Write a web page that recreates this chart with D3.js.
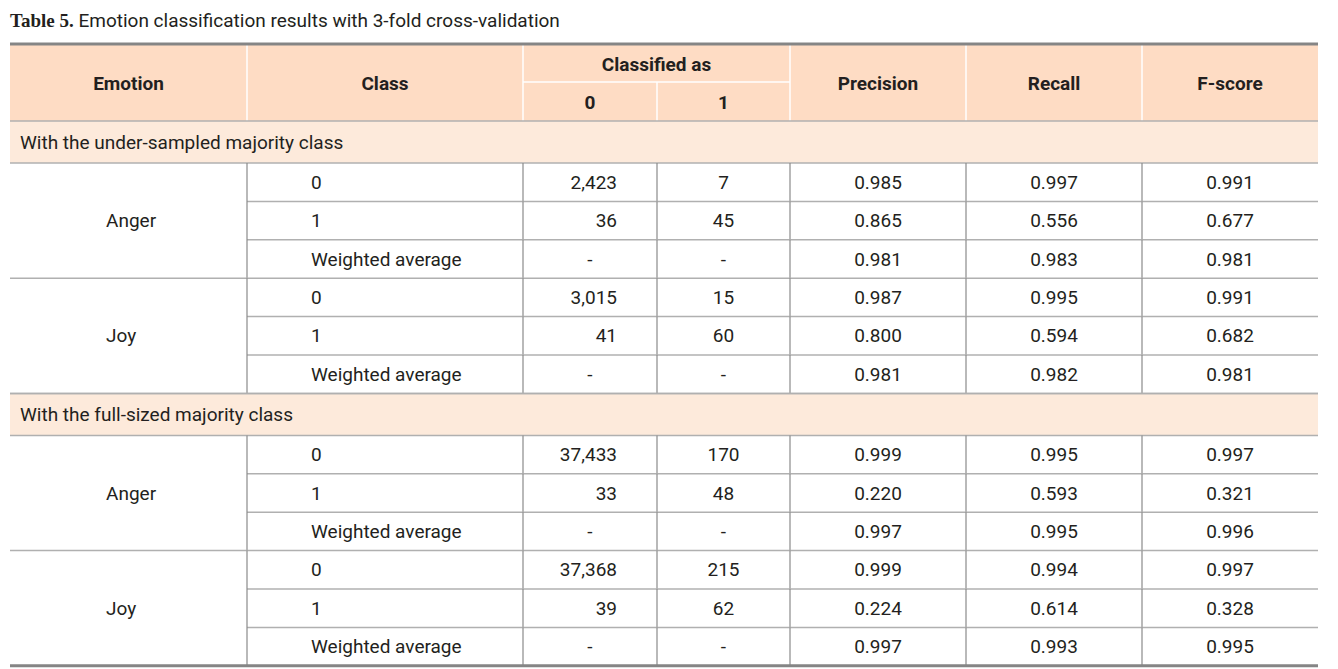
<!DOCTYPE html>
<html><head><meta charset="utf-8">
<script src="https://cdn.jsdelivr.net/npm/d3@7"></script>
<style>body{margin:0;background:#fff}svg{display:block}</style>
</head><body><svg id="c" width="1338" height="669"></svg>
<script>
const titleBold = "Table 5.";
const titleRest = " Emotion classification results with 3-fold cross-validation";
const headers = ["Emotion", "Class", "Classified as", "Precision", "Recall", "F-score"];
const subHeaders = ["0", "1"];
const sections = ["With the under-sampled majority class", "With the full-sized majority class"];
const emotions = ["Anger", "Joy", "Anger", "Joy"];
const classes = ["0", "1", "Weighted average"];
const classified0 = ["2,423","36","-","3,015","41","-","37,433","33","-","37,368","39","-"];
const classified1 = ["7","45","-","15","60","-","170","48","-","215","62","-"];
const precision = ["0.985","0.865","0.981","0.987","0.800","0.981","0.999","0.220","0.997","0.999","0.224","0.997"];
const recall = ["0.997","0.556","0.983","0.995","0.594","0.982","0.995","0.593","0.995","0.994","0.614","0.993"];
const fscore = ["0.991","0.677","0.981","0.991","0.682","0.981","0.997","0.321","0.996","0.997","0.328","0.995"];

const svg = d3.select("#c");
const FONT = "Roboto, 'Open Sans', sans-serif";
const TXT = "#231f20";
const colEdges = [10, 247, 523, 657, 790, 966, 1142, 1318];
const headTop = 44, headBot = 121, subY = 82;
const sectionH = 42, rowH = 38.4;

// title
const t = svg.append("text").attr("x", 10).attr("y", 27).attr("fill", TXT).style("font-size", "19px");
t.append("tspan").text(titleBold).style("font-family", "'Liberation Serif', 'Times New Roman', serif").style("font-weight", "bold").style("font-size", "19px");
t.append("tspan").text(titleRest).style("font-family", FONT);

// build row layout
const rows = []; // {type, y0, y1, ...}
let y = headBot;
let di = 0;
sections.forEach((s, si) => {
  rows.push({type: "section", text: s, y0: y, y1: y + sectionH});
  y += sectionH;
  for (let b = 0; b < 2; b++) {
    const blockStart = y;
    for (let r = 0; r < classes.length; r++) {
      rows.push({type: "data", idx: di, cls: classes[r], r, y0: y, y1: y + rowH});
      di++; y += rowH;
    }
    rows.push({type: "block", emotion: emotions[si * 2 + b], y0: blockStart, y1: y});
  }
});
const tableBottom = y;

// header background
svg.append("rect").attr("x", colEdges[0]).attr("y", headTop).attr("width", colEdges[7] - colEdges[0]).attr("height", headBot - headTop).attr("fill", "#fedcc4");
// section background
rows.filter(d => d.type === "section").forEach(d => {
  svg.append("rect").attr("x", colEdges[0]).attr("y", d.y0).attr("width", colEdges[7] - colEdges[0]).attr("height", d.y1 - d.y0).attr("fill", "#fdeadb");
});

// header white lines
const hl = svg.append("g").attr("stroke", "#fff").attr("stroke-width", 1.5);
[1, 2, 4, 5, 6].forEach(i => hl.append("line").attr("x1", colEdges[i]).attr("x2", colEdges[i]).attr("y1", headTop).attr("y2", headBot));
hl.append("line").attr("x1", colEdges[3]).attr("x2", colEdges[3]).attr("y1", subY).attr("y2", headBot);
hl.append("line").attr("x1", colEdges[2]).attr("x2", colEdges[4]).attr("y1", subY).attr("y2", subY);

// header text
const hx = [ (colEdges[0]+colEdges[1])/2, (colEdges[1]+colEdges[2])/2, (colEdges[2]+colEdges[4])/2, (colEdges[4]+colEdges[5])/2, (colEdges[5]+colEdges[6])/2, (colEdges[6]+colEdges[7])/2 ];
const hy = [83, 83, 64, 83, 83, 83];
svg.selectAll("text.h").data(headers).enter().append("text").attr("class", "h")
  .attr("x", (d, i) => hx[i]).attr("y", (d, i) => hy[i]).attr("dy", "0.35em")
  .attr("text-anchor", "middle").attr("fill", TXT)
  .style("font-family", FONT).style("font-size", "19px").style("font-weight", "bold").text(d => d);
svg.selectAll("text.sh").data(subHeaders).enter().append("text").attr("class", "sh")
  .attr("x", (d, i) => (colEdges[2 + i] + colEdges[3 + i]) / 2).attr("y", 102).attr("dy", "0.35em")
  .attr("text-anchor", "middle").attr("fill", TXT)
  .style("font-family", FONT).style("font-size", "19px").style("font-weight", "bold").text(d => d);

// body grid lines
const g = svg.append("g");
const hLine = (x1, x2, yy, w, c) => g.append("line").attr("x1", x1).attr("x2", x2).attr("y1", yy).attr("y2", yy).attr("stroke", c).attr("stroke-width", w);
const vLine = (xx, y1, y2) => g.append("line").attr("x1", xx).attr("x2", xx).attr("y1", y1).attr("y2", y2).attr("stroke", "#8a8a8a").attr("stroke-width", 1.2);

rows.forEach(d => {
  if (d.type === "section") {
    hLine(colEdges[0], colEdges[7], d.y0, 1.5, "#b0b0b0");
    hLine(colEdges[0], colEdges[7], d.y1, 1.5, "#b0b0b0");
  } else if (d.type === "data") {
    if (d.r > 0) hLine(colEdges[1], colEdges[7], d.y0, 1.5, "#b0b0b0");
    for (let i = 2; i <= 6; i++) vLine(colEdges[i], d.y0, d.y1);
  } else if (d.type === "block") {
    vLine(colEdges[1], d.y0, d.y1);
    hLine(colEdges[0], colEdges[7], d.y1, 1.5, "#b0b0b0");
  }
});

// body text
const body = svg.append("g").attr("fill", TXT).style("font-family", FONT).style("font-size", "19px");
rows.filter(d => d.type === "section").forEach(d => {
  body.append("text").attr("x", 20).attr("y", (d.y0 + d.y1) / 2).attr("dy", "0.35em").text(d.text);
});
rows.filter(d => d.type === "block").forEach(d => {
  body.append("text").attr("x", 106).attr("y", (d.y0 + d.y1) / 2).attr("dy", "0.35em").text(d.emotion);
});
const cx = i => (colEdges[i] + colEdges[i + 1]) / 2;
rows.filter(d => d.type === "data").forEach(d => {
  const ym = (d.y0 + d.y1) / 2;
  body.append("text").attr("x", 311).attr("y", ym).attr("dy", "0.35em").text(d.cls);
  const v0 = classified0[d.idx];
  body.append("text").attr("x", v0 === "-" ? cx(2) : 617).attr("y", ym).attr("dy", "0.35em")
    .attr("text-anchor", v0 === "-" ? "middle" : "end").text(v0);
  [[classified1, 3], [precision, 4], [recall, 5], [fscore, 6]].forEach(([arr, c]) => {
    body.append("text").attr("x", cx(c)).attr("y", ym).attr("dy", "0.35em").attr("text-anchor", "middle").text(arr[d.idx]);
  });
});

// thick top and bottom borders
hLine(colEdges[0], colEdges[7], headTop, 3, "#858585");
hLine(colEdges[0], colEdges[7], tableBottom, 3, "#858585");
</script></body></html>
